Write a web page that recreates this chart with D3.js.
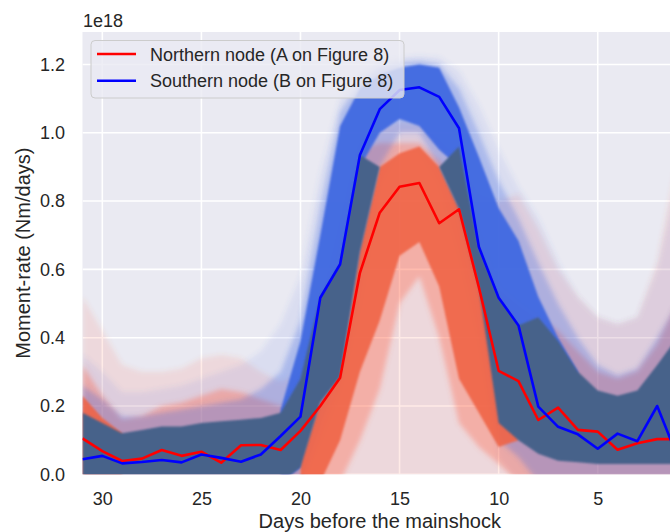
<!DOCTYPE html>
<html>
<head>
<meta charset="utf-8">
<script src="https://cdn.jsdelivr.net/npm/d3@7"></script>
<style>
    body { margin: 0; background: #fff; }
    svg text { font-family: "Liberation Sans", Arial, sans-serif; fill: #262626; }
</style>
</head>
<body>
<svg id="chart"></svg>
<script>
// Days before the mainshock (left to right)
var days = [31, 30, 29, 28, 27, 26, 25, 24, 23, 22, 21, 20, 19, 18, 17, 16,
    15, 14, 13, 12, 11, 10, 9, 8, 7, 6, 5, 4, 3, 2, 1];

// Moment-rate of the two nodes, in units of 1e18 Nm/days
var northern = [0.105, 0.068, 0.039, 0.046, 0.071, 0.054, 0.066, 0.034, 0.085, 0.086,
    0.071, 0.127, 0.200, 0.283, 0.590, 0.766, 0.842, 0.853, 0.735, 0.776,
    0.548, 0.303, 0.273, 0.159, 0.195, 0.130, 0.125, 0.072, 0.091, 0.103, 0.103];
var southern = [0.044, 0.054, 0.032, 0.036, 0.042, 0.035, 0.058, 0.048, 0.037, 0.058,
    0.112, 0.169, 0.517, 0.615, 0.935, 1.069, 1.125, 1.133, 1.105, 1.013,
    0.666, 0.517, 0.436, 0.198, 0.139, 0.117, 0.075, 0.119, 0.097, 0.200, 0.055];

// Ensemble envelopes (lo / hi per day, null = none)
var redFaintHi = [0.52, 0.42, 0.32, 0.30, 0.30, 0.31, 0.34, 0.35, 0.34, 0.30,
    0.27, 0.30, 0.50, 0.75, 0.98, 1.02, 1.03, 1.03, 0.98, 0.92,
    0.82, 0.80, 0.82, 0.72, 0.60, 0.52, 0.46, 0.44, 0.46, 0.62, 0.92];
var blueFaintLo = [0, 0, 0, 0, 0, 0, 0, 0, 0, 0,
    0, 0, 0.10, 0.25, 0.50, 0.85, 0.95, 0.95, 0.85, 0.65,
    0.40, 0.05, 0, 0, 0, 0, 0, 0, 0, 0, 0];
var blueFaintHi = [0.35, 0.30, 0.24, 0.24, 0.25, 0.26, 0.28, 0.30, 0.32, 0.36,
    0.44, 0.58, 0.88, 1.10, 1.17, 1.21, 1.22, 1.225, 1.22, 1.18,
    1.08, 0.95, 0.84, 0.75, 0.62, 0.52, 0.46, 0.44, 0.46, 0.60, 0.85];
var redMidLo = [0, 0, 0, 0, 0, 0, 0, 0, 0, 0,
    0, 0, 0, 0, 0.10, 0.25, 0.50, 0.58, 0.40, 0.15,
    0.08, 0.03, 0, 0, 0, 0, 0, 0, 0, 0, 0];
var redMidHi = [0.32, 0.23, 0.16, 0.17, 0.20, 0.21, 0.23, 0.25, 0.24, 0.22,
    0.20, 0.22, 0.45, 0.65, 0.95, 0.97, 0.97, 0.97, 0.92, 0.85,
    0.70, 0.55, 0.50, 0.46, 0.42, 0.36, 0.30, 0.28, 0.30, 0.38, 0.50];
var blueMidLo = [0, 0, 0, 0, 0, 0, 0, 0, 0, 0,
    0, 0, 0.15, 0.30, 0.60, 0.90, 1.00, 1.00, 0.90, 0.75,
    0.50, 0.10, 0.05, 0, 0, 0, 0, 0, 0, 0, 0];
var blueMidHi = [0.26, 0.22, 0.17, 0.17, 0.18, 0.19, 0.20, 0.21, 0.22, 0.25,
    0.30, 0.45, 0.78, 1.06, 1.15, 1.19, 1.205, 1.21, 1.20, 1.13,
    1.00, 0.86, 0.75, 0.62, 0.50, 0.40, 0.32, 0.29, 0.31, 0.40, 0.50];
var blueLo = [null, null, null, null, null, null, null, null, null, null,
    0, 0.02, 0.40, 0.55, 0.90, 1.00, 1.04, 1.02, 0.95, 0.90,
    0.60, 0.45, 0.40, 0.35, 0.30, 0.25, null, null, null, null, null];
var blueHi = [null, null, null, null, null, null, null, null, null, null,
    0.19, 0.39, 0.70, 1.02, 1.13, 1.17, 1.19, 1.20, 1.19, 1.075,
    0.93, 0.78, 0.684, 0.52, 0.40, 0.30, null, null, null, null, null];
var redLo = [0, 0, 0, null, null, null, null, null, null, null,
    null, 0, 0, 0.10, 0.30, 0.45, 0.64, 0.68, 0.55, 0.28,
    0.18, 0.08, 0.10, null, null, null, null, null, null, null, null];
var redHi = [0.23, 0.165, 0.12, null, null, null, null, null, null, null,
    null, 0.04, 0.21, 0.29, 0.66, 0.90, 0.94, 0.96, 0.90, 0.78,
    0.55, 0.30, 0.10, null, null, null, null, null, null, null, null];
var bothLo = [0, 0, 0, 0, 0, 0, 0, 0, 0, 0,
    0, 0.02, 0.21, 0.285, 0.65, 0.90, null, null, 0.90, 0.776,
    0.548, 0.15, 0.10, 0.06, 0.04, 0.035, 0.03, 0.03, 0.03, 0.03, 0.03];
var bothHi = [0.18, 0.15, 0.12, 0.13, 0.14, 0.14, 0.15, 0.155, 0.16, 0.165,
    0.18, 0.28, 0.52, 0.615, 0.935, 0.90, null, null, 0.90, 0.96,
    0.66, 0.517, 0.436, 0.46, 0.39, 0.30, 0.245, 0.23, 0.245, 0.32, 0.40];

var xTicks = [30, 25, 20, 15, 10, 5];
var yTicks = [0, 0.2, 0.4, 0.6, 0.8, 1.0, 1.2];

// Size of the figure and the plot box
var width = 670,
    height = 532,
    plotLeft = 82.5,
    plotRight = 677,
    plotTop = 32,
    plotBottom = 474.3;

var x = d3.scaleLinear().domain([31, 1]).range([plotLeft, plotRight]);
var y = d3.scaleLinear().domain([0, 1.295]).range([plotBottom, plotTop]);

var svg = d3.select("#chart")
    .attr("width", width)
    .attr("height", height);

var defs = svg.append("defs");
defs.append("clipPath")
    .attr("id", "plot-clip")
    .append("rect")
    .attr("x", plotLeft).attr("y", plotTop)
    .attr("width", plotRight - plotLeft).attr("height", plotBottom - plotTop);
defs.append("filter").attr("id", "soft")
    .attr("x", "-5%").attr("y", "-5%").attr("width", "110%").attr("height", "110%")
    .append("feGaussianBlur").attr("stdDeviation", 2.5);
defs.append("filter").attr("id", "edge")
    .append("feGaussianBlur").attr("stdDeviation", 0.8);

// Plot background and white grid
svg.append("rect")
    .attr("x", plotLeft).attr("y", plotTop)
    .attr("width", plotRight - plotLeft).attr("height", plotBottom - plotTop)
    .attr("fill", "#eaeaf2");

var grid = svg.append("g").attr("clip-path", "url(#plot-clip)");
grid.selectAll(".vgrid")
    .data(xTicks)
    .enter().append("line")
    .attr("x1", function (d) { return x(d); })
    .attr("x2", function (d) { return x(d); })
    .attr("y1", plotTop).attr("y2", plotBottom)
    .attr("stroke", "#fff").attr("stroke-width", 1.6);
grid.selectAll(".hgrid")
    .data(yTicks)
    .enter().append("line")
    .attr("x1", plotLeft).attr("x2", plotRight)
    .attr("y1", function (d) { return y(d); })
    .attr("y2", function (d) { return y(d); })
    .attr("stroke", "#fff").attr("stroke-width", 1.6);

// Area between two envelopes; floors are pushed below the clip
function band(lo, hi) {
    return d3.area()
        .defined(function (d, i) { return lo[i] != null && hi[i] != null; })
        .x(function (d) { return x(d); })
        .y0(function (d, i) { return lo[i] <= 0 ? plotBottom + 8 : y(lo[i]); })
        .y1(function (d, i) { return y(hi[i]); })(days);
}

var zero = days.map(function () { return 0; });
var layers = [
    { lo: zero, hi: redFaintHi, fill: "#ff6347", opacity: 0.13, filter: "soft" },
    { lo: blueFaintLo, hi: blueFaintHi, fill: "#4169e1", opacity: 0.10, filter: "soft" },
    { lo: redMidLo, hi: redMidHi, fill: "#ff6347", opacity: 0.36, filter: "soft" },
    { lo: blueMidLo, hi: blueMidHi, fill: "#4169e1", opacity: 0.30, filter: "soft" },
    { lo: blueLo, hi: blueHi, fill: "#4169e1", opacity: 0.96, filter: "edge" },
    { lo: redLo, hi: redHi, fill: "#ef6446", opacity: 0.9, filter: "edge" },
    { lo: bothLo, hi: bothHi, fill: "#46628a", opacity: 1, filter: "edge" }
];

var plot = svg.append("g").attr("clip-path", "url(#plot-clip)");
plot.selectAll(".band")
    .data(layers)
    .enter().append("path")
    .attr("class", "band")
    .attr("d", function (d) { return band(d.lo, d.hi); })
    .attr("fill", function (d) { return d.fill; })
    .attr("fill-opacity", function (d) { return d.opacity; })
    .attr("filter", function (d) { return "url(#" + d.filter + ")"; });

// The two node curves
var line = d3.line()
    .x(function (d) { return x(d[0]); })
    .y(function (d) { return y(d[1]); });

plot.append("path")
    .attr("d", line(d3.zip(days, northern)))
    .attr("fill", "none").attr("stroke", "#ff0000").attr("stroke-width", 2.6)
    .attr("stroke-linejoin", "round");
plot.append("path")
    .attr("d", line(d3.zip(days, southern)))
    .attr("fill", "none").attr("stroke", "#0000ff").attr("stroke-width", 2.6)
    .attr("stroke-linejoin", "round");

// Axes
var xAxis = svg.append("g")
    .attr("transform", "translate(0," + plotBottom + ")")
    .call(d3.axisBottom(x).tickValues(xTicks).tickSize(0).tickPadding(18.2));
var yAxis = svg.append("g")
    .attr("transform", "translate(" + plotLeft + ",0)")
    .call(d3.axisLeft(y).tickValues(yTicks).tickSize(0).tickPadding(17.5)
        .tickFormat(d3.format(".1f")));
[xAxis, yAxis].forEach(function (a) {
    a.select(".domain").remove();
    a.attr("font-family", null).attr("font-size", null);
    a.selectAll("text").style("font-size", "18px").attr("fill", "#262626");
});

svg.append("text")
    .attr("x", plotLeft + 0.5).attr("y", 26.7)
    .style("font-size", "18px")
    .text("1e18");

svg.append("text")
    .attr("x", (plotLeft + plotRight) / 2).attr("y", 528)
    .style("font-size", "20px")
    .style("text-anchor", "middle")
    .text("Days before the mainshock");

svg.append("text")
    .attr("transform", "translate(29.5," + (plotTop + plotBottom) / 2 + ") rotate(-90)")
    .style("font-size", "20px")
    .style("text-anchor", "middle")
    .text("Moment-rate (Nm/days)");

// Legend
var legendItems = [
    { label: "Northern node (A on Figure 8)", color: "#ff0000" },
    { label: "Southern node (B on Figure 8)", color: "#0000ff" }
];
var legend = svg.append("g");
legend.append("rect")
    .attr("x", 91).attr("y", 40.5)
    .attr("width", 313).attr("height", 57.5)
    .attr("rx", 4)
    .attr("fill", "#eaeaf2").attr("fill-opacity", 0.8)
    .attr("stroke", "#cccccc").attr("stroke-width", 1);
var item = legend.selectAll(".item")
    .data(legendItems)
    .enter().append("g")
    .attr("transform", function (d, i) { return "translate(0," + (54 + i * 26.7) + ")"; });
item.append("line")
    .attr("x1", 97).attr("x2", 136)
    .attr("stroke", function (d) { return d.color; })
    .attr("stroke-width", 2.6);
item.append("text")
    .attr("x", 150).attr("y", 6.7)
    .style("font-size", "18px")
    .text(function (d) { return d.label; });
</script>
</body>
</html>
